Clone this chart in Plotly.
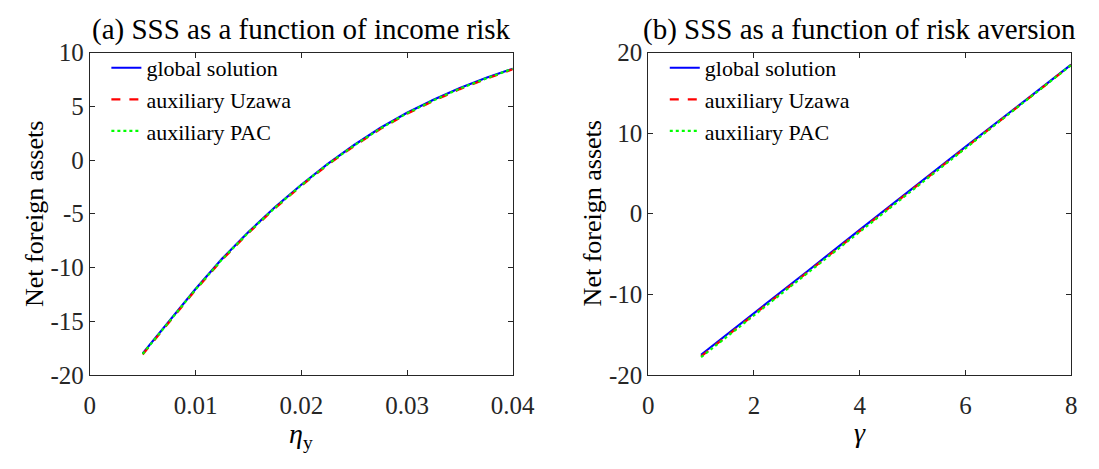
import plotly.graph_objects as go

# Panel (a): SSS net foreign assets vs. income risk eta_y
eta_y = [0.005, 0.0075, 0.01, 0.0125, 0.015, 0.0175, 0.02, 0.0225,
         0.025, 0.0275, 0.03, 0.0325, 0.035, 0.0375, 0.04]
nfa_eta_global = [-18.0, -15.0, -12.0, -9.2, -6.7, -4.4, -2.3, -0.35,
                  1.4, 3.0, 4.4, 5.6, 6.7, 7.65, 8.5]
nfa_eta_uzawa = [-18.1, -15.1, -12.1, -9.3, -6.8, -4.5, -2.4, -0.45,
                 1.3, 2.9, 4.3, 5.5, 6.6, 7.55, 8.45]
nfa_eta_pac = [-18.05, -15.05, -12.05, -9.25, -6.75, -4.45, -2.35, -0.4,
               1.35, 2.95, 4.35, 5.55, 6.65, 7.6, 8.5]

# Panel (b): SSS net foreign assets vs. risk aversion gamma
gamma = [1, 2, 3, 4, 5, 6, 7, 8]
nfa_gamma_global = [-17.5, -12.4, -7.2, -2.0, 3.2, 8.3, 13.4, 18.5]
nfa_gamma_uzawa = [-17.7, -12.55, -7.35, -2.15, 3.05, 8.2, 13.3, 18.45]
nfa_gamma_pac = [-17.8, -12.6, -7.4, -2.2, 3.0, 8.15, 13.3, 18.45]

series_names = ["global solution", "auxiliary Uzawa", "auxiliary PAC"]
series_colors = ["#0000ff", "#ff0000", "#00ff00"]
series_dash = ["solid", "dash", "dot"]

x_ticks_a = [0, 0.01, 0.02, 0.03, 0.04]
x_ticklabels_a = ["0", "0.01", "0.02", "0.03", "0.04"]
y_ticks_a = [-20, -15, -10, -5, 0, 5, 10]
y_ticklabels_a = ["-20", "-15", "-10", "-5", "0", "5", "10"]
x_ticks_b = [0, 2, 4, 6, 8]
x_ticklabels_b = ["0", "2", "4", "6", "8"]
y_ticks_b = [-20, -10, 0, 10, 20]
y_ticklabels_b = ["-20", "-10", "0", "10", "20"]

FONT = "Liberation Serif"
AXC = "#262626"
W, H = 1099, 469

fig = go.Figure()

panel_a = [nfa_eta_global, nfa_eta_uzawa, nfa_eta_pac]
panel_b = [nfa_gamma_global, nfa_gamma_uzawa, nfa_gamma_pac]

for name, col, dash, ys in zip(series_names, series_colors, series_dash, panel_a):
    fig.add_trace(go.Scatter(x=eta_y, y=ys, mode="lines", name=name,
                             line=dict(color=col, dash=dash, width=2.2),
                             xaxis="x", yaxis="y", legend="legend"))
for name, col, dash, ys in zip(series_names, series_colors, series_dash, panel_b):
    fig.add_trace(go.Scatter(x=gamma, y=ys, mode="lines", name=name,
                             line=dict(color=col, dash=dash, width=2.2),
                             xaxis="x2", yaxis="y2", legend="legend2"))

# pixel-based panel geometry
ax_a = (86, 520)
ax_b = (659, 1093)
top_px, bot_px = 42, 384
ydom = [(H - bot_px) / H, (H - top_px) / H]

axis_common = dict(showgrid=False, zeroline=False, showline=True, linecolor=AXC,
                   linewidth=1, mirror="ticks", ticks="inside", ticklen=5,
                   tickcolor=AXC, tickfont=dict(family=FONT, size=25, color=AXC))
xaxis_extra = dict(ticklabelstandoff=8)

legend_common = dict(font=dict(family=FONT, size=22, color="#000000"),
                     bgcolor="rgba(0,0,0,0)", borderwidth=0,
                     xanchor="left", yanchor="top", tracegroupgap=0,
                     itemwidth=30)

fig.update_layout(
    width=W, height=H,
    margin=dict(l=0, r=0, t=0, b=0),
    paper_bgcolor="white", plot_bgcolor="white",
    xaxis=dict(domain=[ax_a[0] / W, ax_a[1] / W], range=[0, 0.04],
               tickvals=x_ticks_a, ticktext=x_ticklabels_a, anchor="y",
               **axis_common, **xaxis_extra),
    yaxis=dict(domain=ydom, range=[-20, 10], tickvals=y_ticks_a,
               ticktext=y_ticklabels_a, anchor="x", **axis_common),
    xaxis2=dict(domain=[ax_b[0] / W, ax_b[1] / W], range=[0, 8],
                tickvals=x_ticks_b, ticktext=x_ticklabels_b, anchor="y2",
                **axis_common, **xaxis_extra),
    yaxis2=dict(domain=ydom, range=[-20, 20], tickvals=y_ticks_b,
                ticktext=y_ticklabels_b, anchor="x2", **axis_common),
    legend=dict(x=(ax_a[0] + 17) / W, y=(H - 36) / H, **legend_common),
    legend2=dict(x=(ax_b[0] + 17) / W, y=(H - 36) / H, **legend_common),
    showlegend=True,
)

# panel titles and axis labels
def ann(text, xpx, ypx, size, angle=0):
    fig.add_annotation(text=text, x=xpx / W, y=(H - ypx) / H, xref="paper",
                       yref="paper", showarrow=False, textangle=angle,
                       xanchor="center", yanchor="middle",
                       font=dict(family=FONT, size=size, color="#000000"))

ann("(a) SSS as a function of income risk", (ax_a[0] + ax_a[1]) / 2, 18, 29)
ann("(b) SSS as a function of risk aversion", (ax_b[0] + ax_b[1]) / 2, 18, 29)
ann("Net foreign assets", 30, (top_px + bot_px) / 2, 26, -90)
ann("Net foreign assets", 602, (top_px + bot_px) / 2, 26, -90)
ann("<i>η</i><sub>y</sub>", (ax_a[0] + ax_a[1]) / 2, 448, 28)
ann("<i>γ</i>", (ax_b[0] + ax_b[1]) / 2, 445, 28)

fig.write_html("out.html")
